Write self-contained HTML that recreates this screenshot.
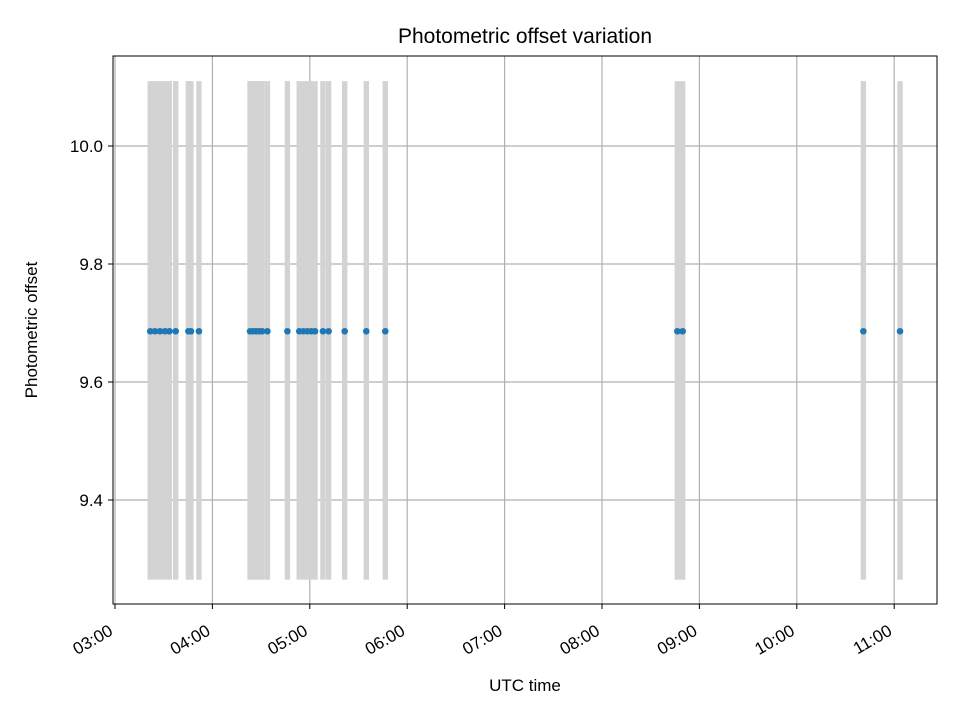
<!DOCTYPE html>
<html><head><meta charset="utf-8"><style>
body{margin:0;background:#fff;font-family:"Liberation Sans","DejaVu Sans",sans-serif;}
</style></head><body>
<svg id="chart" width="960" height="720" xmlns="http://www.w3.org/2000/svg" font-family="Liberation Sans, DejaVu Sans, sans-serif">
<rect width="960" height="720" fill="#fff"/>
<g id="grid"></g>
<g id="bars"></g>
<g id="points"></g>
<rect x="113" y="56" width="824" height="548" fill="none" stroke="#000" stroke-width="1"/>
<g id="xticks"></g>
<g id="yticks"></g>
<text x="525" y="43" text-anchor="middle" font-size="21">Photometric offset variation</text>
<text x="525" y="691" text-anchor="middle" font-size="17">UTC time</text>
<text x="37" y="330" text-anchor="middle" font-size="17" transform="rotate(-90 37 330)">Photometric offset</text>
</svg>
<script>
// minutes after 03:00 UTC
const obsTimes = [21.7,24.6,27.7,30.8,33.5,37.4,45.2,46.8,51.7,83.2,85.0,86.9,88.7,90.6,93.9,106.2,113.5,116.0,118.5,120.9,123.2,128.1,131.6,141.5,154.8,166.5,346.4,349.7,461.0,483.6];
const offsets = [9.686,9.686,9.686,9.686,9.686,9.686,9.686,9.686,9.686,9.686,9.686,9.686,9.686,9.686,9.686,9.686,9.686,9.686,9.686,9.686,9.686,9.686,9.686,9.686,9.686,9.686,9.686,9.686,9.686,9.686];
const barLow = 9.265, barHigh = 10.11;
const xTickLabels = ["03:00","04:00","05:00","06:00","07:00","08:00","09:00","10:00","11:00"];
const yTicks = [9.4,9.6,9.8,10.0];
const yTickLabels = ["9.4","9.6","9.8","10.0"];

const NS="http://www.w3.org/2000/svg";
function xs(m){return 115+m/60*97.4;}
function ys(v){return 146+(10.0-v)/0.2*118;}
function mk(tag,parent){const e=document.createElementNS(NS,tag);document.getElementById(parent).appendChild(e);return e;}

xTickLabels.forEach((l,i)=>{
  const x=xs(i*60);
  const g=mk('line','grid');
  
  
  g.setAttribute('x1',x);g.setAttribute('x2',x);g.setAttribute('y1',56);g.setAttribute('y2',604);g.setAttribute('stroke','#b0b0b0');g.setAttribute('stroke-width','1.2');
  const t=mk('line','xticks');
  
  
  t.setAttribute('x1',x);t.setAttribute('x2',x);t.setAttribute('y1',604);t.setAttribute('y2',609);t.setAttribute('stroke','#000');
  const tx=mk('text','xticks');
  
  
  const ax=x-1, ay=634;
  tx.setAttribute('x',ax);tx.setAttribute('y',ay);tx.setAttribute('font-size','17');tx.setAttribute('text-anchor','end');
  tx.setAttribute('transform','rotate(-30 '+ax+' '+ay+')');
  tx.textContent=l;
});
yTicks.forEach((v,i)=>{
  const y=ys(v);
  const g=mk('line','grid');
  
  
  g.setAttribute('x1',113);g.setAttribute('x2',937);g.setAttribute('y1',y);g.setAttribute('y2',y);g.setAttribute('stroke','#b0b0b0');g.setAttribute('stroke-width','1.2');
  const t=mk('line','yticks');
  
  
  t.setAttribute('x1',108);t.setAttribute('x2',113);t.setAttribute('y1',y);t.setAttribute('y2',y);t.setAttribute('stroke','#000');
  const tx=mk('text','yticks');
  
  
  tx.setAttribute('x',103);tx.setAttribute('y',y+6);tx.setAttribute('font-size','17');tx.setAttribute('text-anchor','end');
  tx.textContent=yTickLabels[i];
});
obsTimes.forEach(m=>{
  const r=mk('rect','bars');
  
  
  r.setAttribute('x',xs(m)-2.7);r.setAttribute('width',5.4);
  r.setAttribute('y',ys(barHigh));r.setAttribute('height',ys(barLow)-ys(barHigh));
  r.setAttribute('fill','#d3d3d3');
});
obsTimes.forEach((m,i)=>{
  const c=mk('circle','points');
  
  
  c.setAttribute('cx',xs(m));c.setAttribute('cy',ys(offsets[i]));c.setAttribute('r',3.3);c.setAttribute('fill','#1f77b4');
});
</script>
</body></html>
